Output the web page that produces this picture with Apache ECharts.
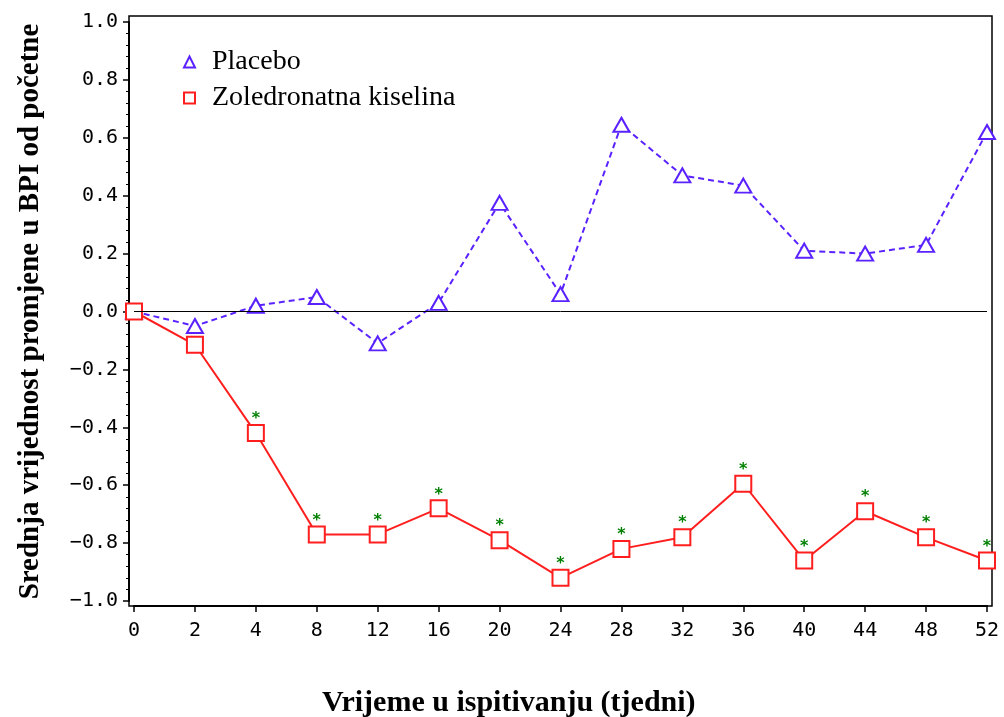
<!DOCTYPE html>
<html>
<head>
<meta charset="utf-8">
<script src="https://cdn.jsdelivr.net/npm/echarts@6/dist/echarts.min.js"></script>
<style>html,body{margin:0;padding:0;background:#fff}#c{width:1004px;height:717px}</style>
</head>
<body>
<div id="c"></div>
<script>
const weeks = ['0','2','4','8','12','16','20','24','28','32','36','40','44','48','52'];
const placebo = [0.0,-0.05,0.02,0.05,-0.11,0.03,0.375,0.06,0.645,0.47,0.435,0.21,0.2,0.23,0.62];
const zoledronic = [0.0,-0.115,-0.42,-0.77,-0.77,-0.68,-0.79,-0.92,-0.82,-0.78,-0.595,-0.86,-0.69,-0.78,-0.86];
const significant = [0,0,1,1,1,1,1,1,1,1,1,1,1,1,1];
const yTicks = [-1.0,-0.8,-0.6,-0.4,-0.2,0.0,0.2,0.4,0.6,0.8,1.0];
const seriesNames = ['Placebo','Zoledronatna kiselina'];
const xTitle = 'Vrijeme u ispitivanju (tjedni)';
const yTitle = 'Srednja vrijednost promjene u BPI od početne';

const chart = echarts.init(document.getElementById('c'));
const monoFont = 'DejaVu Sans Mono';
const serifFont = 'Liberation Serif';
const blue = '#5a22ff';
const red = '#ff1e1e';

chart.setOption({
  animation: false,
  backgroundColor: '#fff',
  grid: {left: 134, right: 17, top: 22, bottom: 116, containLabel: false, outerBoundsMode: 'none'},
  title: {
    text: xTitle, left: 317, top: 683,
    textStyle: {fontFamily: serifFont, fontWeight: 'bold', fontSize: 30, color: '#000'}
  },
  legend: {
    left: 178, top: 43, orient: 'vertical', itemGap: 8,
    itemWidth: 11, itemHeight: 11,
    textStyle: {fontFamily: serifFont, fontSize: 28, color: '#000', padding: [0,0,0,12]},
    data: [
      {name: seriesNames[0], icon: 'emptyTriangle'},
      {name: seriesNames[1], icon: 'emptyRect'}
    ]
  },
  graphic: [{
    type: 'rect', silent: true, z: 0,
    shape: {x: 129, y: 16, width: 863, height: 590},
    style: {fill: null, stroke: '#000', lineWidth: 1.5}
  }],
  xAxis: {
    type: 'category', data: weeks, boundaryGap: false, offset: 5,
    axisLine: {show: true, onZero: false, lineStyle: {color: '#000', width: 2}},
    axisTick: {show: true, length: 6, alignWithLabel: true, lineStyle: {color: '#000', width: 1.5}},
    axisLabel: {fontFamily: monoFont, fontSize: 20, color: '#000', margin: 15, interval: 0},
    splitLine: {show: false}
  },
  yAxis: {
    type: 'value', min: yTicks[0], max: yTicks[yTicks.length-1], interval: 0.2, offset: 5,
    name: yTitle, nameLocation: 'middle', nameGap: 84, nameRotate: 90,
    nameTextStyle: {fontFamily: serifFont, fontWeight: 'bold', fontSize: 29, color: '#000'},
    axisLine: {show: true, onZero: false, lineStyle: {color: '#000', width: 2}},
    axisTick: {show: true, length: 6, lineStyle: {color: '#000', width: 1.5}},
    minorTick: {show: true, splitNumber: 5, length: 3, lineStyle: {color: '#000', width: 1}},
    axisLabel: {fontFamily: monoFont, fontSize: 20, color: '#000', margin: 11,
      formatter: v => (v < 0 ? '\u2212' : '') + Math.abs(v).toFixed(1)},
    splitLine: {show: false}
  },
  series: [
    {
      name: seriesNames[0], type: 'line', data: placebo,
      symbol: 'emptyTriangle', symbolSize: [16, 14],
      lineStyle: {color: blue, width: 2, type: [6, 4]},
      itemStyle: {color: blue, borderColor: blue, borderWidth: 1.5},
      z: 3,
      markLine: {
        silent: true, symbol: ['none','none'], label: {show: false},
        lineStyle: {color: '#000', width: 1, type: 'solid'},
        data: [{yAxis: 0}]
      }
    },
    {
      name: seriesNames[1], type: 'line',
      data: zoledronic.map((v, i) => ({
        value: v,
        label: {show: !!significant[i]}
      })),
      symbol: 'emptyRect', symbolSize: 16,
      lineStyle: {color: red, width: 2},
      itemStyle: {color: red, borderColor: red, borderWidth: 1.5},
      label: {
        show: false, position: 'top', distance: -3, formatter: '*',
        color: '#008000', fontFamily: 'DejaVu Sans', fontWeight: 'bold', fontSize: 16
      },
      z: 4
    }
  ]
});
</script>
</body>
</html>
